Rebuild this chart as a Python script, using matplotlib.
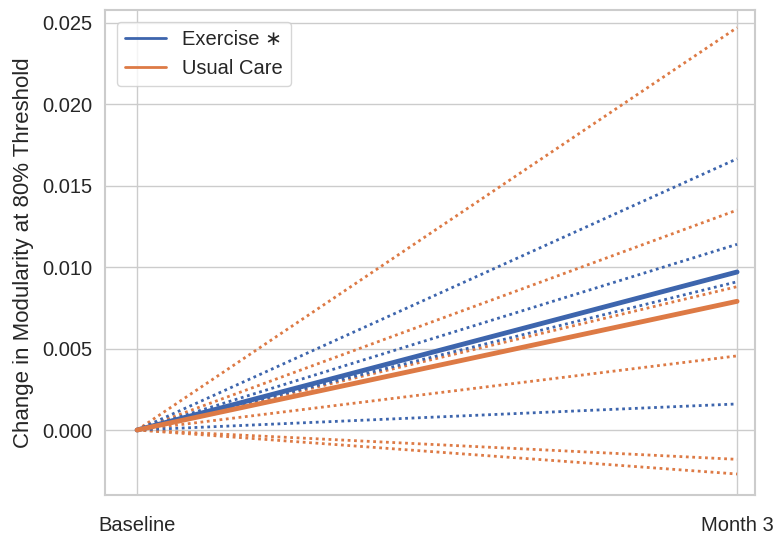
import matplotlib
matplotlib.use("Agg")
import matplotlib.pyplot as plt
import seaborn as sns
import numpy as np

# values at Month 3 (baseline is zero for every subject)
timepoints = ["Baseline", "Month 3"]
exercise_subjects = [0.01665, 0.0114, 0.0091, 0.0016]
usual_care_subjects = [0.0247, 0.0135, 0.0088, 0.00455, -0.0018, -0.0027]
exercise_mean = 0.0097
usual_care_mean = 0.0079

sns.set_theme(style="whitegrid")
plt.rcParams['font.family'] = ['Liberation Sans', 'DejaVu Sans']

blue = "#3d65ad"
orange = "#dd7a45"

fig, ax = plt.subplots(figsize=(7.8, 5.4), dpi=100)
x = np.arange(len(timepoints))

for v in usual_care_subjects:
    ax.plot(x, [0, v], color=orange, linestyle=(0, (1, 1.3)), linewidth=2)
for v in exercise_subjects:
    ax.plot(x, [0, v], color=blue, linestyle=(0, (1, 1.3)), linewidth=2)

ax.plot(x, [0, exercise_mean], color=blue, linewidth=3.5)
ax.plot(x, [0, usual_care_mean], color=orange, linewidth=3.5)

# legend proxies
ax.plot([], [], color=blue, linewidth=2, label="Exercise \u2217")
ax.plot([], [], color=orange, linewidth=2, label="Usual Care")
ax.legend(loc="upper left", fontsize=14.5, frameon=True, handlelength=2.0,
          borderaxespad=0.6)

ax.set_xticks(x)
ax.set_xticklabels(timepoints, fontsize=14.5)
ax.set_xlim(-0.053, 1.03)
ax.set_ylim(-0.004, 0.0258)
ax.set_yticks([0.0, 0.005, 0.010, 0.015, 0.020, 0.025])
ax.set_yticklabels(["0.000", "0.005", "0.010", "0.015", "0.020", "0.025"], fontsize=14.5)
ax.set_ylabel("Change in Modularity at 80% Threshold", fontsize=16, labelpad=6)
ax.tick_params(axis="x", pad=9)

for s in ax.spines.values():
    s.set_color("#cccccc")
    s.set_linewidth(1.5)

fig.subplots_adjust(left=0.135, right=0.968, top=0.982, bottom=0.083)
fig.savefig("out.png", dpi=100)
